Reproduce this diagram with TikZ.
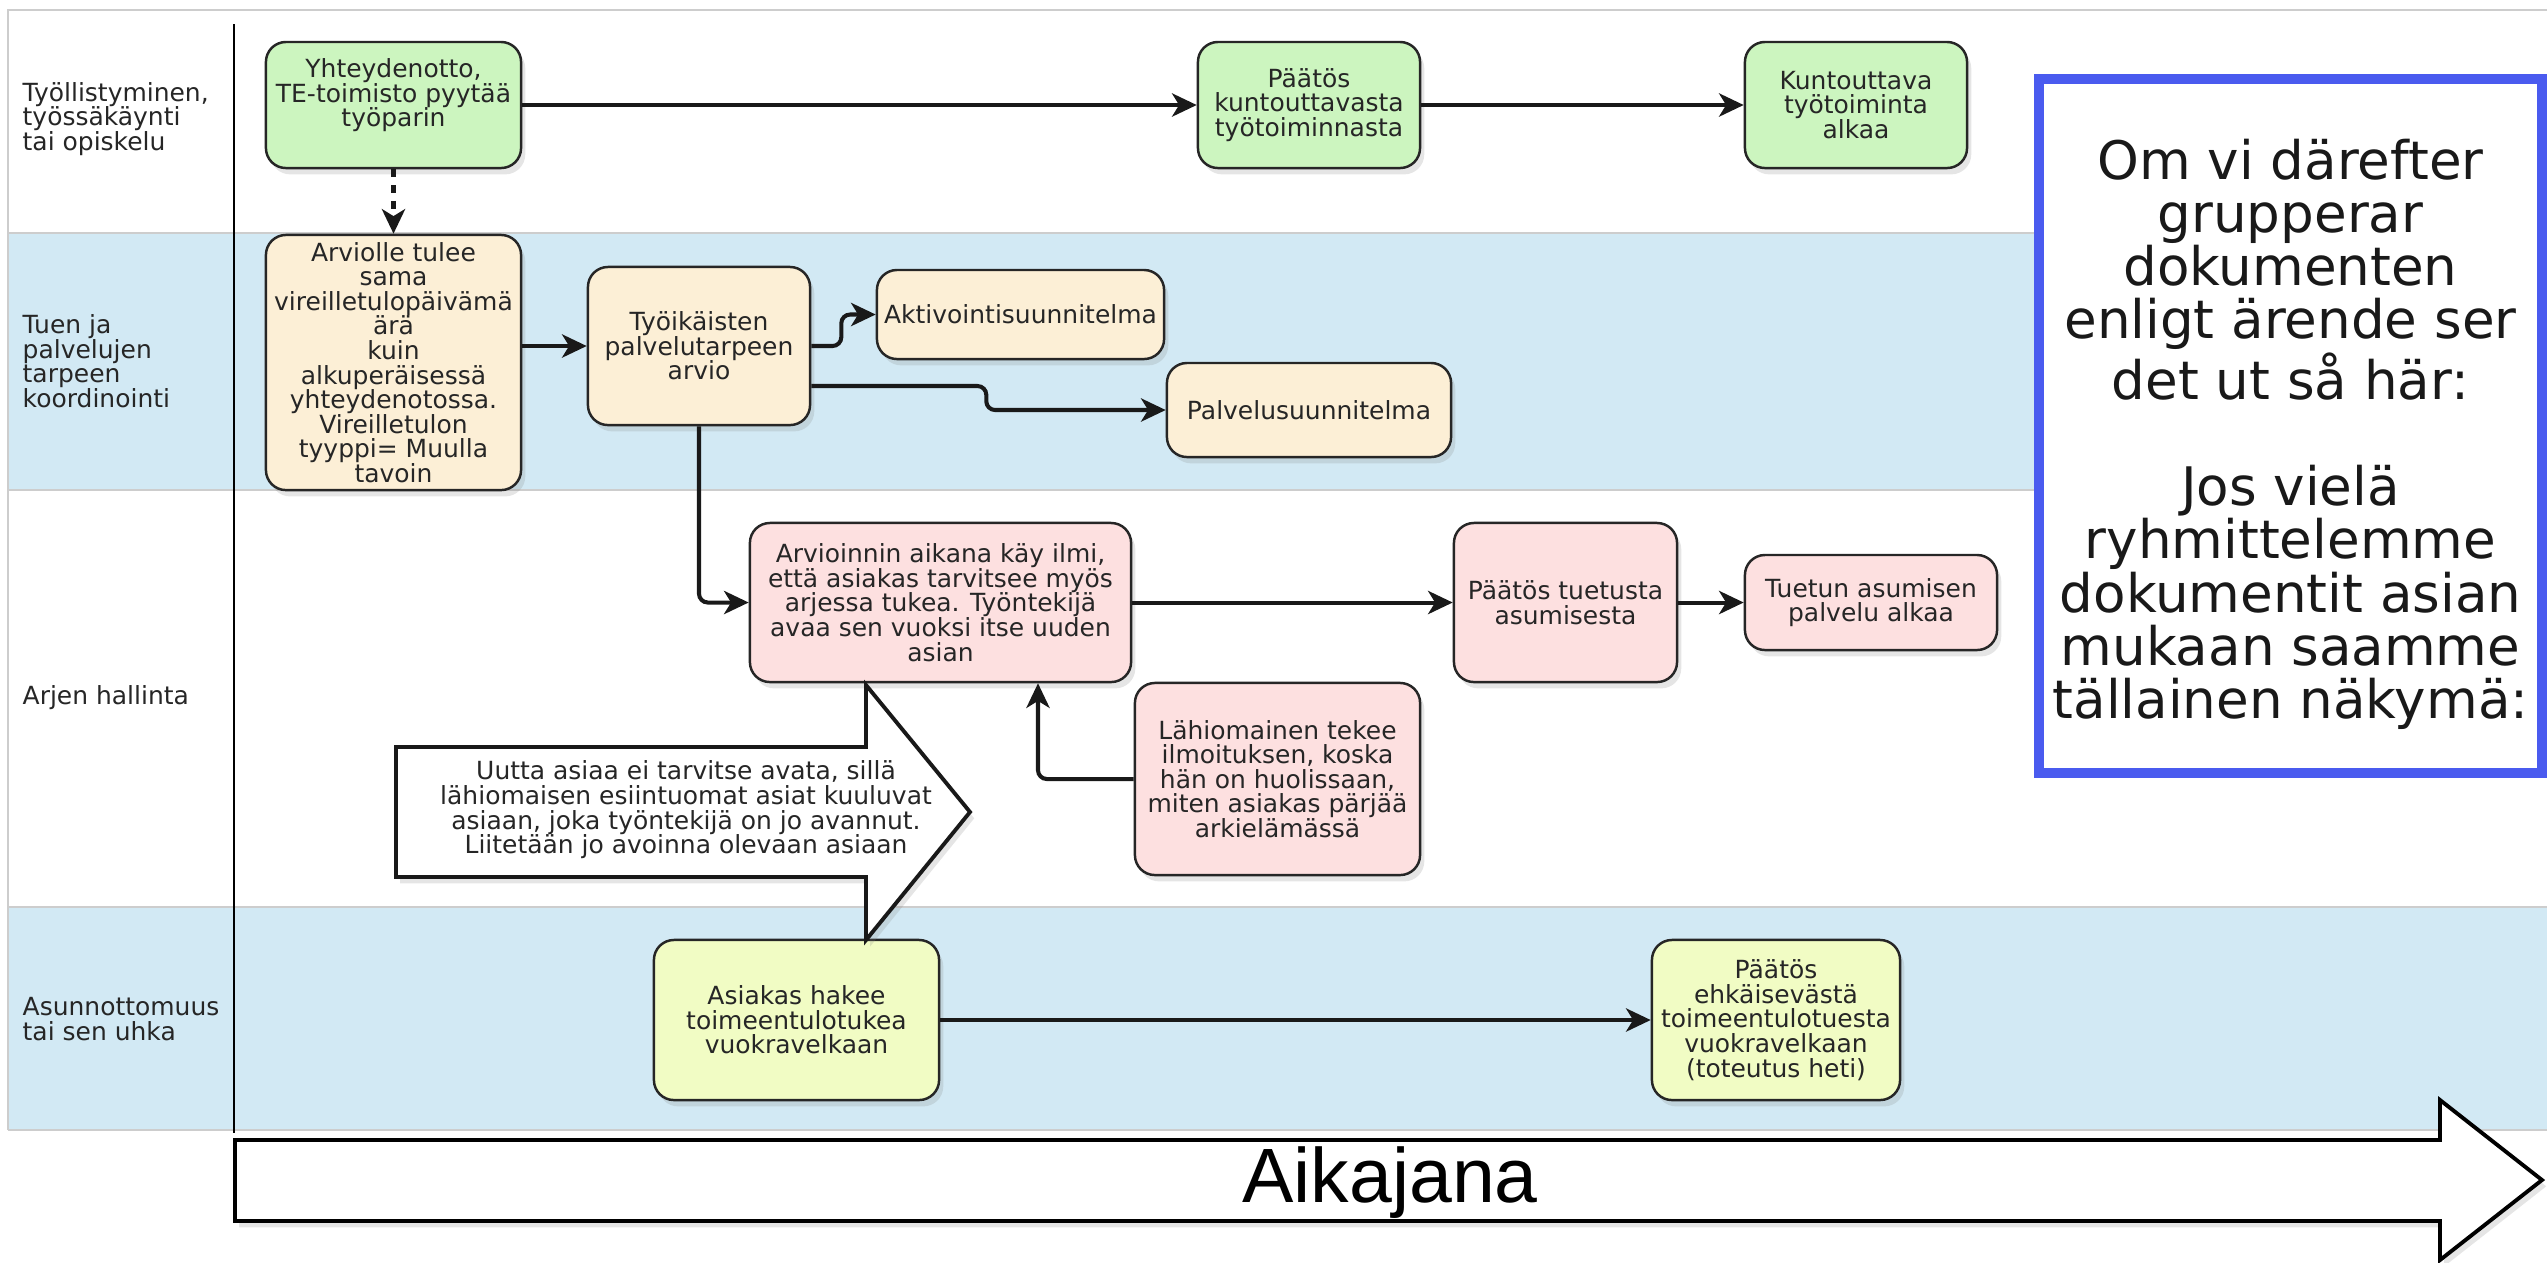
\documentclass[tikz,border=0pt]{standalone}
\usepackage{fontspec}
\setmainfont{DejaVu Sans}
\newfontfamily\arialf{Liberation Sans}
\usetikzlibrary{arrows.meta,shadows,calc}
\definecolor{laneblue}{RGB}{210,233,244}
\definecolor{lanegrey}{RGB}{205,205,205}
\definecolor{gfill}{RGB}{204,245,191}
\definecolor{bfill}{RGB}{252,239,214}
\definecolor{pfill}{RGB}{253,224,224}
\definecolor{yfill}{RGB}{241,252,196}
\definecolor{frameblue}{RGB}{74,91,239}
\newcommand\nodefs{\fontsize{7.1pt}{7pt}\selectfont}
\newcommand\notefs{\fontsize{15.1pt}{15.1pt}\selectfont}
\tikzset{
  shadowed/.style={drop shadow={opacity=0.2, shadow xshift=1.2pt, shadow yshift=-1.8pt}},
  box/.style={draw=black!85, line width=0.7pt, rounded corners=0.2cm, inner sep=0pt,
    align=center, font=\nodefs, text=black!85, shadowed},
  gbox/.style={box, fill=gfill},
  bbox/.style={box, fill=bfill},
  pbox/.style={box, fill=pfill},
  ybox/.style={box, fill=yfill},
  lanelabel/.style={anchor=west, inner sep=0pt, align=left, font=\nodefs, text=black!85},
  conn/.style={draw=black!90, line width=1.15pt, rounded corners=2.5pt,
    -{Stealth[length=7pt,width=6.6pt,inset=2pt]}},
  lanesep/.style={draw=lanegrey, line width=0.8pt},
}
\begin{document}
\begin{tikzpicture}[x=0.01cm,y=-0.01cm]
\useasboundingbox (0,0) rectangle (2547,1262);
\fill[white] (0,0) rectangle (2547,1262);
% lanes
\fill[laneblue] (8,233) rectangle (2547,490);
\fill[laneblue] (8,907) rectangle (2547,1130);
\draw[lanesep] (8,1130) -- (8,10) -- (2547,10);
\foreach \yy in {233,490,907,1130} \draw[lanesep] (8,\yy) -- (2547,\yy);
% vertical axis line
\draw[black, line width=0.85pt] (234,24) -- (234,1133);
% lane labels
\node[lanelabel] (l1) at (22,119) {Työllistyminen,\\työssäkäynti\\tai opiskelu};
\node[lanelabel] (l2) at (22,361) {Tuen ja\\palvelujen\\tarpeen\\koordinointi};
\node[lanelabel] (l3) at (22,698) {Arjen hallinta};
\node[lanelabel] (l4) at (22,1019) {Asunnottomuus\\tai sen uhka};
% nodes
\node[gbox, minimum width=2.55cm, minimum height=1.26cm] (yht) at (393.5,105)
  {Yhteydenotto,\\TE-toimisto pyytää\\työparin\\\mbox{}};
\node[gbox, minimum width=2.22cm, minimum height=1.26cm] (paat1) at (1309,105)
  {Päätös\\kuntouttavasta\\työtoiminnasta};
\node[gbox, minimum width=2.22cm, minimum height=1.26cm] (kunt) at (1856,105)
  {Kuntouttava\\työtoiminta\\alkaa};
\node[bbox, minimum width=2.55cm, minimum height=2.55cm] (arv) at (393.5,362.5)
  {Arviolle tulee\\sama\\vireilletulopäivämä\\ärä\\kuin\\alkuperäisessä\\yhteydenotossa.\\Vireilletulon\\tyyppi= Muulla\\tavoin};
\node[bbox, minimum width=2.22cm, minimum height=1.58cm] (tyo) at (699,346)
  {Työikäisten\\palvelutarpeen\\arvio};
\node[bbox, minimum width=2.87cm, minimum height=0.89cm] (akt) at (1020.5,314.5)
  {Aktivointisuunnitelma};
\node[bbox, minimum width=2.84cm, minimum height=0.94cm] (palv) at (1309,410)
  {Palvelusuunnitelma};
\node[pbox, minimum width=3.81cm, minimum height=1.59cm] (arvi) at (940.5,602.5)
  {Arvioinnin aikana käy ilmi,\\että asiakas tarvitsee myös\\arjessa tukea. Työntekijä\\avaa sen vuoksi itse uuden\\asian};
\node[pbox, minimum width=2.23cm, minimum height=1.59cm] (paat2) at (1565.5,602.5)
  {Päätös tuetusta\\asumisesta};
\node[pbox, minimum width=2.52cm, minimum height=0.95cm] (tuet) at (1871,602.5)
  {Tuetun asumisen\\palvelu alkaa};
\node[pbox, minimum width=2.85cm, minimum height=1.92cm] (lahi) at (1277.5,779)
  {Lähiomainen tekee\\ilmoituksen, koska\\hän on huolissaan,\\miten asiakas pärjää\\arkielämässä};
\node[ybox, minimum width=2.85cm, minimum height=1.60cm] (asi) at (796.5,1020)
  {Asiakas hakee\\toimeentulotukea\\vuokravelkaan};
\node[ybox, minimum width=2.48cm, minimum height=1.60cm] (paat3) at (1776,1020)
  {Päätös\\ehkäisevästä\\toimeentulotuesta\\vuokravelkaan\\(toteutus heti)};
% block arrow
\draw[black!90, line width=1.1pt, fill=white, shadowed]
  (396,747) -- (866,747) -- (866,685) -- (970,812) -- (866,940) -- (866,877) -- (396,877) -- cycle;
\node[align=center, font=\nodefs, text=black!85, inner sep=0pt] (uutta) at (686,810)
  {Uutta asiaa ei tarvitse avata, sillä\\lähiomaisen esiintuomat asiat kuuluvat\\asiaan, joka työntekijä on jo avannut.\\Liitetään jo avoinna olevaan asiaan};
% connectors
\draw[conn] (yht.east) -- (paat1.west);
\draw[conn] (paat1.east) -- (kunt.west);
\draw[conn, dash pattern=on 2.3pt off 2.2pt] (yht.south) -- (arv.north);
\draw[conn] (arv.east |- tyo.west) -- (tyo.west);
\draw[conn] (tyo.east) -- ++(30,0) |- (akt.west);
\draw[conn] ($(tyo.east)+(0,40)$) -- ++(175,0) |- (palv.west);
\draw[conn] (tyo.south) |- (arvi.west);
\draw[conn] (arvi.east) -- (paat2.west);
\draw[conn] (paat2.east) -- (tuet.west);
\draw[conn] (lahi.west) -| ($(arvi.south)+(97.5,0)$);
\draw[conn] (asi.east) -- (paat3.west);
% timeline
\draw[black, line width=1.1pt, fill=white, shadowed]
  (235,1140) -- (2440,1140) -- (2440,1100) -- (2542,1180) -- (2440,1260) -- (2440,1221) -- (235,1221) -- cycle;
\node[font=\arialf\fontsize{21.9pt}{22pt}\selectfont, anchor=base, inner sep=0pt] (aika) at (1390,1202) {Aikajana};
% note box
\node[draw=frameblue, line width=2.85pt, fill=white, minimum width=5.03cm, minimum height=6.94cm,
  inner sep=0pt] (note) at (2290.5,426) {};
\node[inner sep=0pt, align=center, font=\notefs, text=black!90] (notetext) at (2290.5,434)
  {Om vi därefter\\grupperar\\dokumenten\\enligt ärende ser\\det ut så här:\\[15.1pt]Jos vielä\\ryhmittelemme\\dokumentit asian\\mukaan saamme\\tällainen näkymä:};
\end{tikzpicture}
\end{document}
